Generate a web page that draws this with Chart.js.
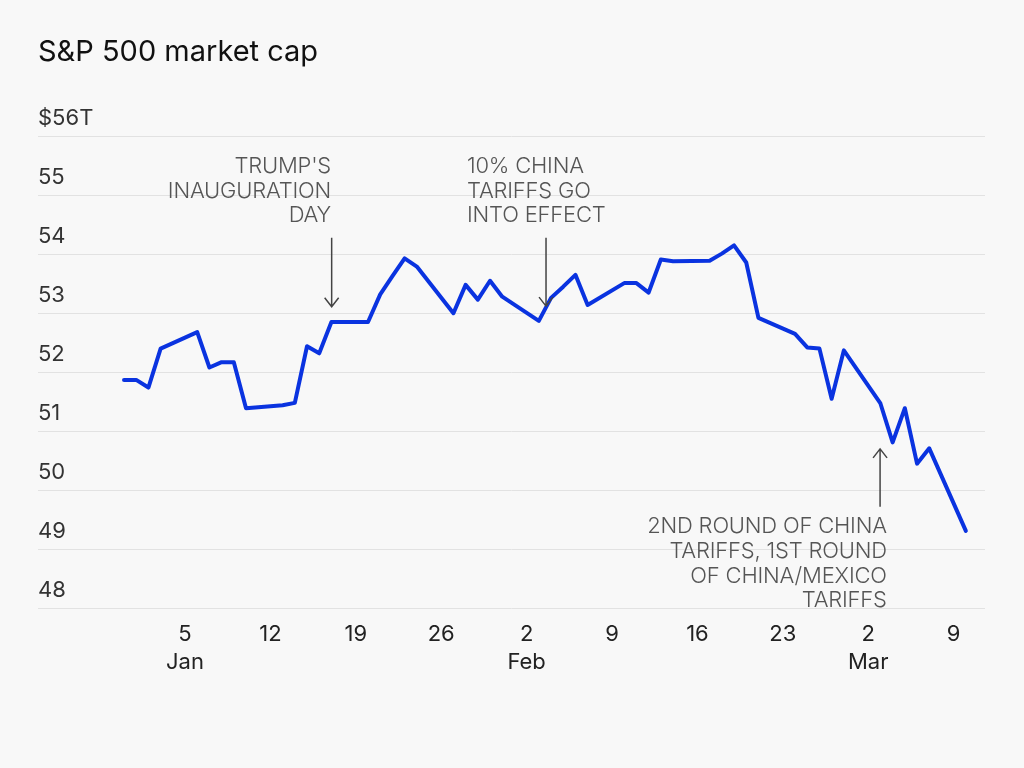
<!DOCTYPE html>
<html>
<head>
<meta charset="utf-8">
<title>S&amp;P 500 market cap</title>
<script src="https://cdn.jsdelivr.net/npm/chart.js@4.4.1/dist/chart.umd.min.js"></script>
<style>
  html, body { margin: 0; padding: 0; background: #f8f8f8; }
  #wrap { width: 1024px; height: 768px; position: relative; }
</style>
</head>
<body>
<div id="wrap"><canvas id="myChart"></canvas></div>
<script>
// day of year 2025, Dec 31 2024 = 0
const tradeDays = [
  0, 1, 2, 3, 6, 7, 8, 9, 10, 13, 14, 15, 16, 17, 20, 21, 22, 23, 24,
  27, 28, 29, 30, 31, 34, 35, 36, 37, 38, 41, 42, 43, 44, 45, 48, 49,
  50, 51, 52, 55, 56, 57, 58, 59, 62, 63, 64, 65, 66, 69
];
// trillions of dollars
const marketCap = [
  51.88, 51.88, 51.75, 52.41, 52.69, 52.09, 52.18, 52.18, 51.40, 51.45,
  51.49, 52.45, 52.33, 52.86, 52.86, 53.33, 53.64, 53.94, 53.80,
  53.01, 53.49, 53.24, 53.56, 53.29, 52.88, 53.27, 53.46, 53.66, 53.15,
  53.52, 53.52, 53.36, 53.92, 53.89, 53.90, 54.02,
  54.16, 53.87, 52.93, 52.66, 52.43, 52.41, 51.56, 52.38, 51.48, 50.82,
  51.40, 50.46, 50.72, 49.32
];
const xTickDays = [5, 12, 19, 26, 33, 40, 47, 54, 61, 68];
const xTickDayLabels = ["5", "12", "19", "26", "2", "9", "16", "23", "2", "9"];
const xTickMonthLabels = ["Jan", "", "", "", "Feb", "", "", "", "Mar", ""];
const yTicks = [48, 49, 50, 51, 52, 53, 54, 55, 56];
const yTickLabels = ["48", "49", "50", "51", "52", "53", "54", "55", "$56T"];

const noteLines = [
  ["TRUMP'S", "INAUGURATION", "DAY"],
  ["10% CHINA", "TARIFFS GO", "INTO EFFECT"],
  ["2ND ROUND OF CHINA", "TARIFFS, 1ST ROUND", "OF CHINA/MEXICO", "TARIFFS"]
];

const notes = [
  { day: 17.02, from: 54.29, to: 53.12, textDay: 16.97, textValue: 55.385, align: "right", lines: noteLines[0] },
  { day: 34.59, from: 54.29, to: 53.13, textDay: 28.11, textValue: 55.385, align: "left", lines: noteLines[1] },
  { day: 61.97, from: 49.73, to: 50.71, textDay: 62.52, textValue: 49.283, align: "right", lines: noteLines[2] }
];

const arrowNotes = {
  id: "arrowNotes",
  afterDatasetsDraw(chart, args, options) {
    const {
      ctx,
      scales: { x, y },
    } = chart;
    ctx.save();
    options.notes.forEach((note) => {
      const ax = x.getPixelForValue(note.day);
      const from = y.getPixelForValue(note.from);
      const to = y.getPixelForValue(note.to);
      const back = to > from ? -9 : 9;
      ctx.strokeStyle = options.arrowColor;
      ctx.lineWidth = 1.5;
      ctx.beginPath();
      ctx.moveTo(ax, from);
      ctx.lineTo(ax, to);
      ctx.moveTo(ax - 7, to + back);
      ctx.lineTo(ax, to);
      ctx.lineTo(ax + 7, to + back);
      ctx.stroke();

      ctx.fillStyle = options.color;
      ctx.font = options.font;
      ctx.letterSpacing = options.letterSpacing;
      ctx.textAlign = note.align;
      ctx.textBaseline = "alphabetic";
      const tx = x.getPixelForValue(note.textDay);
      const ty = y.getPixelForValue(note.textValue);
      note.lines.forEach((line, i) => {
        ctx.fillText(line, tx, ty + i * options.lineHeight);
      });
    });
    ctx.restore();
  },
};

const data = {
  datasets: [
    {
      label: "S&P 500 market cap",
      data: tradeDays.map((d, i) => ({ x: d, y: marketCap[i] })),
      borderColor: "#0a33e0",
      backgroundColor: "#0a33e0",
      borderWidth: 4,
      borderJoinStyle: "round",
      borderCapStyle: "round",
      pointRadius: 0,
      tension: 0,
    },
  ],
};

const config = {
  type: "line",
  data: data,
  options: {
    responsive: true,
    maintainAspectRatio: false,
    animation: false,
    layout: { padding: { left: 38, right: 39, top: 0, bottom: 88 } },
    plugins: {
      legend: { display: false },
      tooltip: { enabled: false },
      title: {
        display: true,
        text: "S&P 500 market cap",
        align: "start",
        color: "#111",
        font: { family: "Inter", size: 29, weight: "400" },
        padding: { top: 35, bottom: 67 },
      },
      arrowNotes: {
        notes: notes,
        color: "#555",
        arrowColor: "#444",
        font: "300 22px Inter",
        letterSpacing: "-0.2px",
        lineHeight: 24.7,
      },
    },
    scales: {
      x: {
        type: "linear",
        min: -7.05,
        max: 70.57,
        grid: { display: false },
        border: { display: false },
        afterBuildTicks(scale) {
          scale.ticks = xTickDays.map((v) => ({ value: v }));
        },
        ticks: {
          color: "#222",
          padding: 3,
          maxRotation: 0,
          autoSkip: false,
          font: { family: "Inter", size: 22, lineHeight: 1.3 },
          callback(value) {
            const i = xTickDays.indexOf(value);
            if (i < 0) return "";
            return xTickMonthLabels[i] ? [xTickDayLabels[i], xTickMonthLabels[i]] : xTickDayLabels[i];
          },
        },
      },
      y: {
        min: 48,
        max: 56,
        grid: { color: "#e2e2e2", lineWidth: 1, drawTicks: false },
        border: { display: false },
        afterBuildTicks(scale) {
          scale.ticks = yTicks.map((v) => ({ value: v }));
        },
        ticks: {
          mirror: true,
          padding: 0,
          labelOffset: -18,
          color: "#333",
          font: { family: "Inter", size: 22 },
          callback(value) {
            return yTickLabels[yTicks.indexOf(value)];
          },
        },
      },
    },
  },
  plugins: [arrowNotes],
};

const myChart = new Chart(document.getElementById("myChart"), config);
</script>
</body>
</html>
